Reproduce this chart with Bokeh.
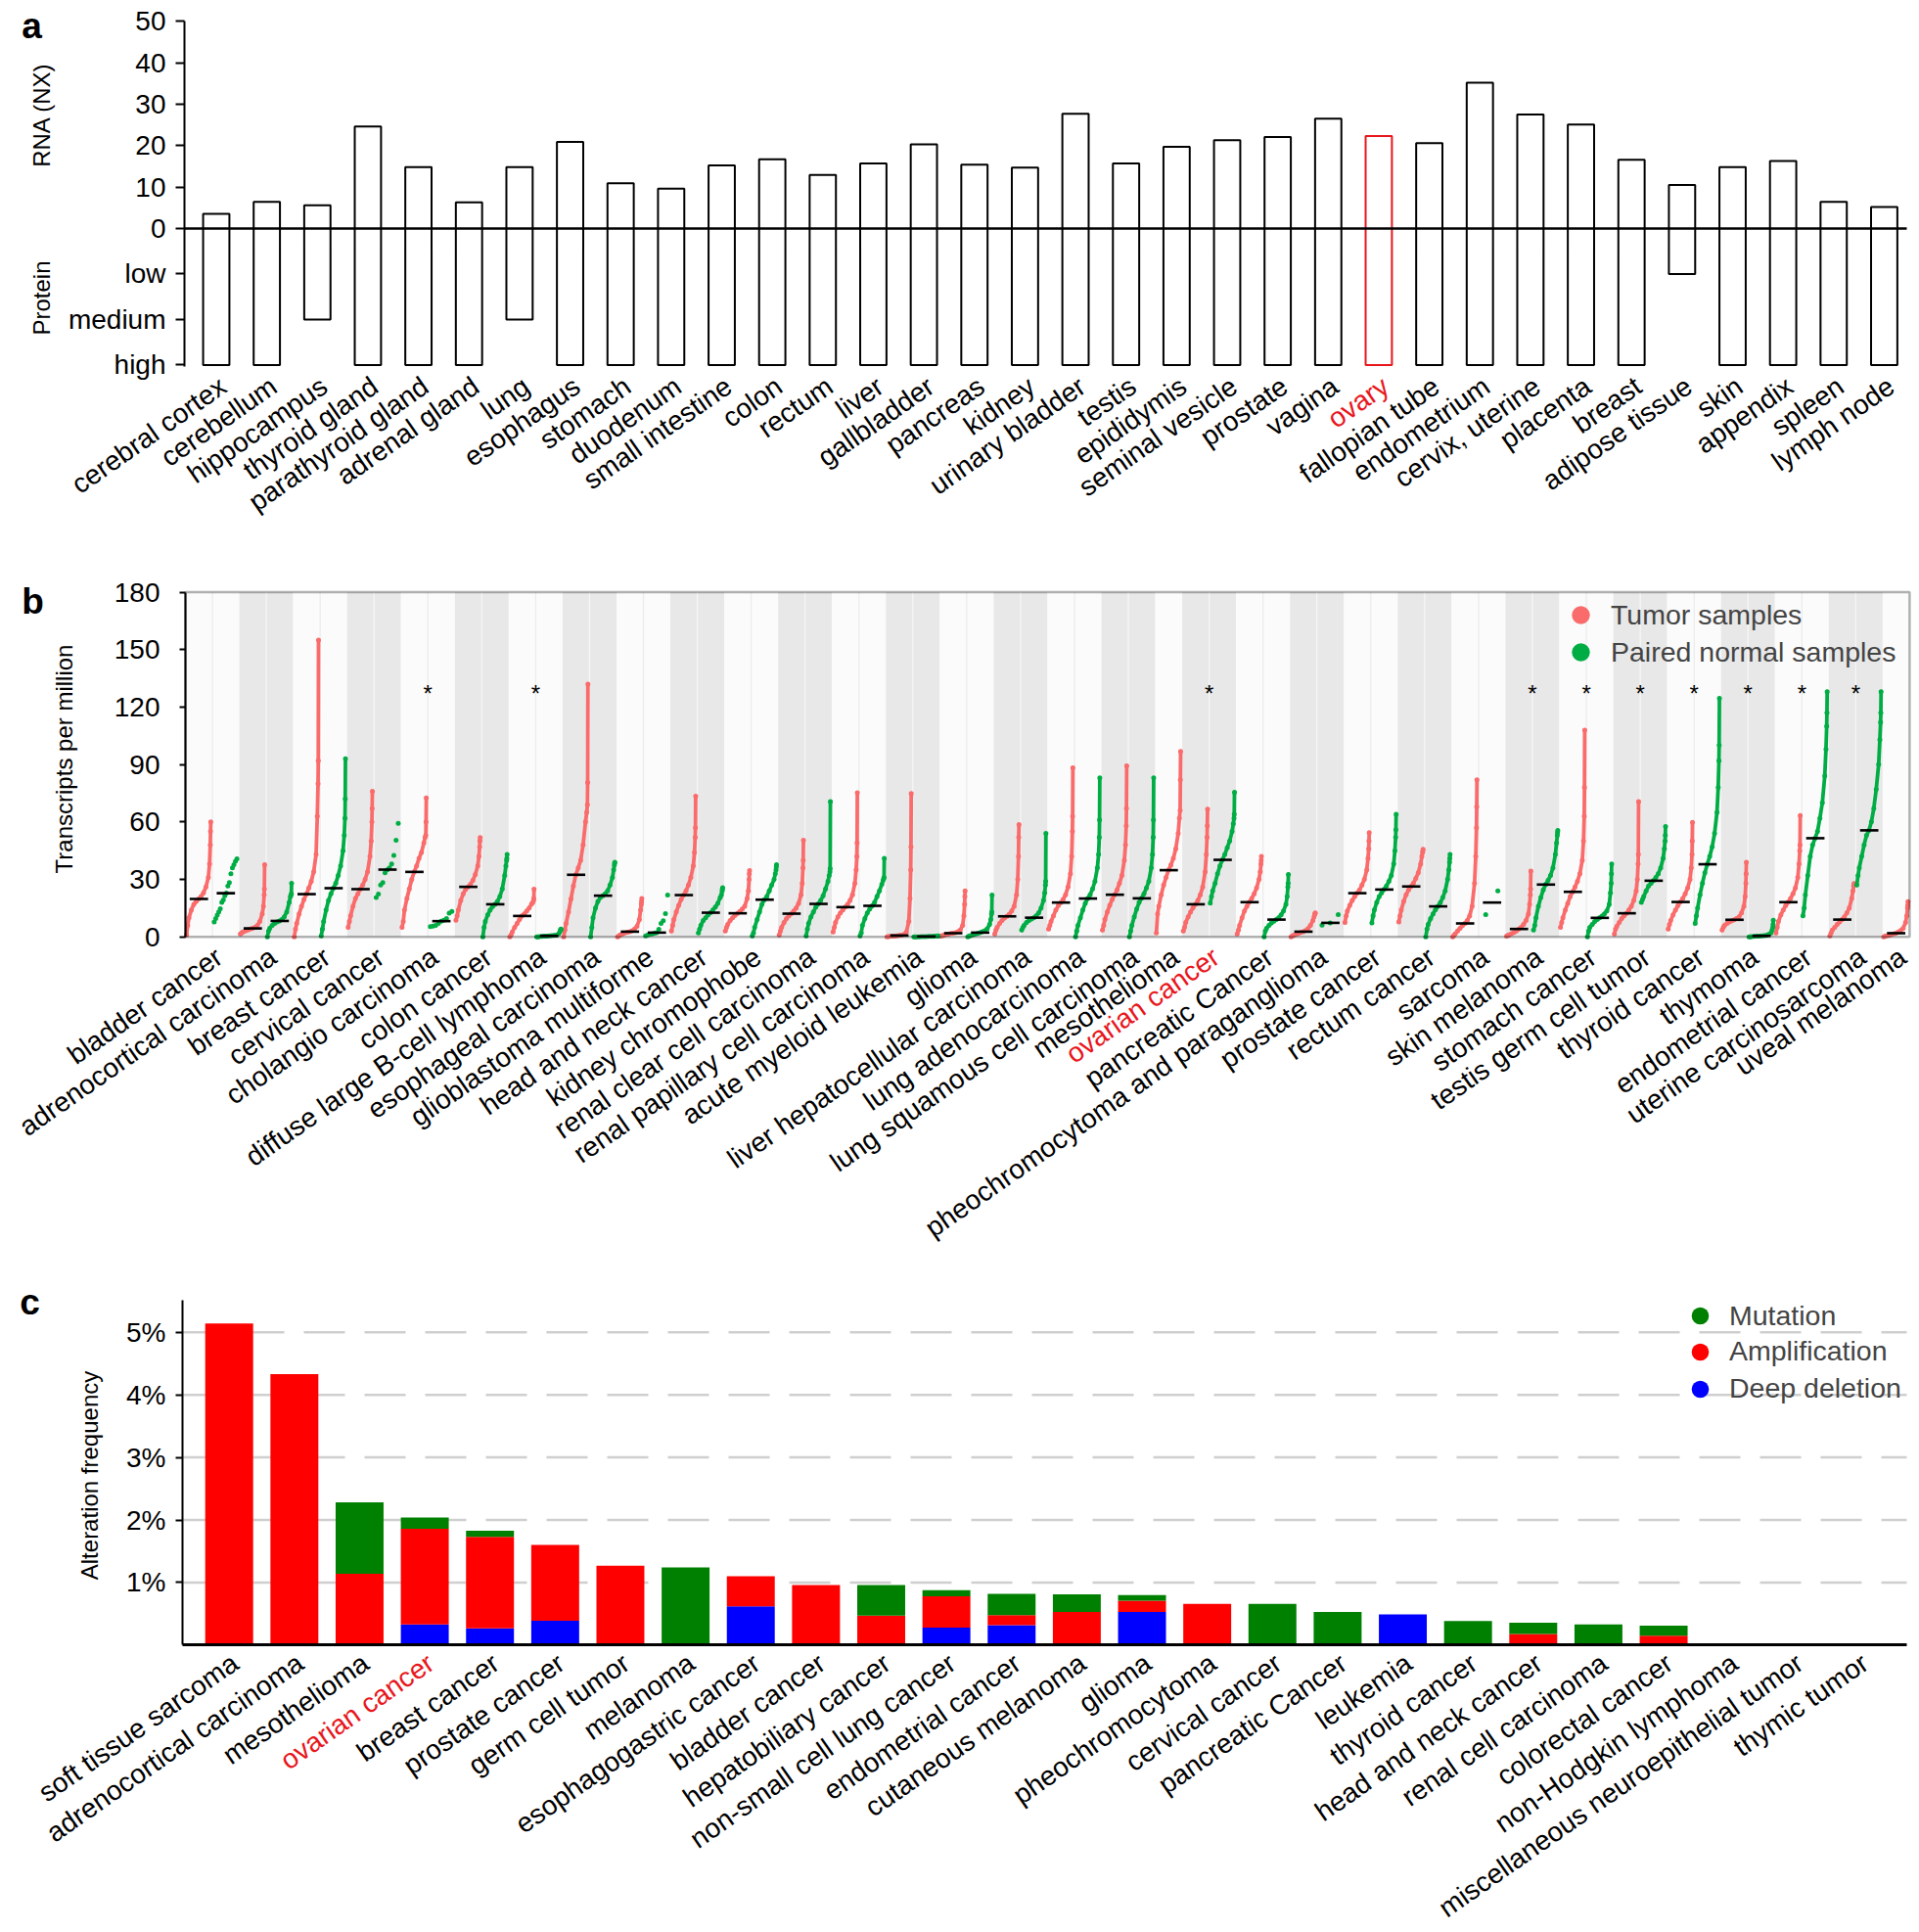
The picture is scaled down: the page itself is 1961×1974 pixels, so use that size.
import numpy as np
from bokeh.plotting import figure
from bokeh.models import (Range1d, ColumnDataSource, LabelSet, Label, FixedTicker, Legend,
                          LegendItem, PrintfTickFormatter, BoxAnnotation)
from bokeh.layouts import column
from bokeh.embed import file_html
from bokeh.resources import INLINE
from bokeh.core.properties import value

FONT = "Liberation Sans"

# ---------------- panel a data ----------------
tissues = ["cerebral cortex", "cerebellum", "hippocampus", "thyroid gland", "parathyroid gland",
           "adrenal gland", "lung", "esophagus", "stomach", "duodenum", "small intestine", "colon",
           "rectum", "liver", "gallbladder", "pancreas", "kidney", "urinary bladder", "testis",
           "epididymis", "seminal vesicle", "prostate", "vagina", "ovary", "fallopian tube",
           "endometrium", "cervix, uterine", "placenta", "breast", "adipose tissue", "skin",
           "appendix", "spleen", "lymph node"]
rna_nx = [3.5, 6.4, 5.6, 24.6, 14.8, 6.3, 14.8, 20.9, 10.9, 9.6, 15.2, 16.7, 12.9, 15.7, 20.3,
          15.4, 14.7, 27.7, 15.7, 19.7, 21.3, 22.1, 26.5, 22.3, 20.6, 35.2, 27.5, 25.1, 16.6,
          10.5, 14.8, 16.3, 6.4, 5.2]
protein = ["high", "high", "medium", "high", "high", "high", "medium", "high", "high", "high",
           "high", "high", "high", "high", "high", "high", "high", "high", "high", "high", "high",
           "high", "high", "high", "high", "high", "high", "high", "high", "low", "high", "high",
           "high", "high"]
protein_levels = ["low", "medium", "high"]
rna_ticks = [0, 10, 20, 30, 40, 50]
highlight_tissue = "ovary"

# ---------------- panel b data ----------------
tcga_cancers = ["bladder cancer", "adrenocortical carcinoma", "breast cancer", "cervical cancer",
                "cholangio carcinoma", "colon cancer", "diffuse large B-cell lymphoma",
                "esophageal carcinoma", "glioblastoma multiforme", "head and neck cancer",
                "kidney chromophobe", "renal clear cell carcinoma", "renal papillary cell carcinoma",
                "acute myeloid leukemia", "glioma", "liver hepatocellular carcinoma",
                "lung adenocarcinoma", "lung squamous cell carcinoma", "mesothelioma",
                "ovarian cancer", "pancreatic Cancer", "pheochromocytoma and paraganglioma",
                "prostate cancer", "rectum cancer", "sarcoma", "skin melanoma", "stomach cancer",
                "testis germ cell tumor", "thyroid cancer", "thymoma", "endometrial cancer",
                "uterine carcinosarcoma", "uveal melanoma"]
# quantile levels at which the sorted sample curves were read
quantile_levels = [0, 0.05, 0.1, 0.2, 0.3, 0.4, 0.5, 0.6, 0.7, 0.8, 0.9, 0.95, 0.98, 0.99, 1.0]
tumor_tpm = [
    [1, 6, 10, 14, 17, 18.5, 19.8, 21, 23, 26, 31, 38, 48, 55, 60],
    [1.5, 2, 2.5, 3, 3.5, 4, 4.4, 5, 6, 8, 12, 16, 22, 25, 37.7],
    [0, 4, 7, 12, 16, 19.5, 22.3, 25.5, 29, 34, 43, 63, 80, 92, 155],
    [5, 8, 11, 16, 20, 22.5, 24.9, 27, 30, 34, 42, 50, 60, 67, 76],
    [5, 8, 14, 20, 25, 30, 33.9, 37, 41, 44, 49, 52, 53, 60, 72.6],
    [8.7, 11, 14, 19, 22.5, 24.8, 26.1, 27.5, 29.5, 32.5, 37, 42, 47, 50, 51.8],
    [0, 1, 2.5, 5, 7, 9, 10.9, 12, 13.5, 15, 17.2, 18, 19, 20, 24.9],
    [0, 3.6, 7, 13, 19.8, 26.6, 32.4, 36, 40, 48, 60, 65, 69, 80.6, 132],
    [0, 0.5, 1, 1.5, 2, 2.4, 2.7, 3.2, 4, 5.5, 9, 14, 17, 18.5, 20],
    [3, 6, 9, 13, 16.5, 19.5, 21.8, 24, 27, 31, 37, 44, 52, 57, 73.5],
    [3, 5, 6.5, 8.5, 10, 11.2, 12.3, 13.2, 14.5, 16, 20, 24, 30, 33, 34.6],
    [1, 3, 5, 7.5, 9.5, 11, 12.1, 13.5, 15, 17.5, 22, 28, 36, 40, 50.5],
    [2.5, 5, 7.5, 10.5, 12.5, 14, 15.5, 17, 19, 22, 28, 35, 42, 49, 75.2],
    [0, 0.1, 0.2, 0.3, 0.4, 0.5, 0.7, 0.9, 1.3, 2.5, 8, 20, 35, 47, 74.8],
    [0.3, 0.6, 0.8, 1.1, 1.4, 1.7, 1.9, 2.2, 2.7, 3.5, 6, 11, 17, 21, 24],
    [1.5, 3.5, 5, 7, 8.5, 9.8, 10.7, 11.8, 13.5, 16, 22, 30, 42, 52, 58.6],
    [4, 6, 8, 11, 14, 16.3, 17.9, 19.5, 22, 26, 33, 42, 55, 63, 88.3],
    [3.5, 6, 9, 13, 16.5, 19.5, 22, 24.5, 28, 32, 40, 48, 58, 67, 89.3],
    [2, 12, 16, 22, 27, 31, 34.8, 37.5, 41, 46, 54, 62, 66, 82, 96.8],
    [3, 5, 7.5, 10.5, 13, 15.2, 17, 19, 22, 26, 34, 43, 52, 58, 66.7],
    [1.5, 3.5, 6, 10, 13.5, 16, 18.1, 20, 22.5, 25.5, 30, 34, 38, 40, 42],
    [0, 0.5, 0.8, 1.3, 1.8, 2.3, 2.7, 3.3, 4.3, 6, 8.5, 10.5, 11.8, 12.2, 12.5],
    [7.5, 11, 13.5, 16.5, 19, 21, 22.8, 24.5, 27, 30, 35, 41, 46, 50, 54.4],
    [7.8, 11, 14, 18.5, 22, 24.5, 26.3, 28, 30.5, 33.5, 38, 42, 44, 45, 45.7],
    [0, 0.8, 1.5, 3, 4.5, 5.8, 7, 8.5, 11, 16, 28, 42, 57, 68, 82],
    [0.3, 0.7, 1, 1.6, 2.3, 3.1, 4.1, 5, 6.5, 8.5, 12, 17, 22, 25, 34.3],
    [5, 7.5, 10, 14, 17.5, 21, 23.5, 26, 29, 33, 40, 50, 63, 78, 108],
    [1.5, 4, 5.5, 7.5, 9.5, 11, 12.3, 14, 16, 19, 24, 30, 38, 43, 70.6],
    [4, 6.5, 8.5, 11.5, 14, 16.3, 18.2, 20, 22.5, 25.5, 30, 36, 43, 50, 59.8],
    [3.5, 5, 6, 7, 7.8, 8.4, 8.9, 9.6, 10.5, 12.5, 16, 21, 28, 33, 39],
    [2, 5, 8, 11.5, 14, 16.3, 18.1, 20, 22.5, 25.5, 31, 38, 45, 48, 63.3],
    [0.5, 2, 3.5, 5, 6.5, 7.8, 9, 10.5, 12.5, 15, 20, 24, 26.5, 27.3, 27.8],
    [0, 0.3, 0.5, 0.8, 1.1, 1.5, 1.9, 2.5, 3.3, 4.5, 7.5, 11, 15, 16.5, 18.4],
]
# normal groups: 15 values = quantile curve; any other length = individual samples
normal_tpm = [
    [7.8, 9.5, 11.3, 13.0, 14.7, 18.0, 19.3, 21.5, 22.8, 26.6, 28.3, 33.0, 36.0, 37.7, 39.4, 40.7],
    [0, 3, 4.5, 6, 7, 7.8, 8.3, 9, 10.5, 13, 18, 21, 22, 22.5, 28],
    [0.5, 4, 8, 14, 19, 22.5, 25.4, 28, 32, 37, 45, 53, 62, 72, 93],
    [20.6, 22.3, 27.1, 28.3, 33.5, 35.0, 36.0, 38.0, 42.5, 50.5, 59.3],
    [5.3, 5.6, 6.0, 7.0, 8.2, 8.7, 9.5, 12.4, 13.3],
    [0, 5, 8, 11.5, 14, 15.8, 17, 18.5, 21, 25, 32, 37, 40, 41, 43],
    [0, 0, 0.1, 0.2, 0.3, 0.4, 0.5, 0.6, 0.7, 0.9, 1.5, 2.5, 3.5, 3.8, 4],
    [0, 5, 10, 15, 18.5, 20.5, 21.5, 22.5, 24, 27, 31, 35, 37.5, 38.5, 39],
    [0.5, 1.0, 1.4, 1.5, 1.9, 2.2, 3.9, 7.0, 8.4, 12.1, 21.8],
    [2, 4, 6, 8.5, 10, 11.5, 12.6, 14, 15.5, 17.5, 20.5, 22, 24, 25, 25.7],
    [0.5, 2, 5, 9, 13, 17, 19.4, 21, 24, 27, 30, 33, 35, 36.5, 37.7],
    [0.5, 4, 7, 10.5, 13, 15.5, 17.2, 19, 21.5, 25, 29, 32, 34, 35.6, 70.6],
    [0.5, 2, 6, 9.5, 12.5, 14.5, 16.2, 18, 21, 24, 27.5, 29.5, 30.5, 31, 41],
    [0, 0, 0, 0, 0.05, 0.1, 0.15, 0.2, 0.2, 0.25, 0.3, 0.35, 0.4, 0.45, 0.5],
    [0, 0.3, 0.6, 1, 1.4, 1.8, 2.2, 2.6, 3.2, 4.2, 6.5, 9, 12, 13, 21.8],
    [3.5, 5, 6, 7.5, 8.5, 9.3, 10, 11, 12.5, 15, 19, 23, 27, 29, 54],
    [0, 3, 6, 10, 14, 17.5, 20, 22, 25, 29, 36, 43, 52, 61, 83],
    [0, 3, 6, 10.5, 14.5, 18, 20.1, 22.5, 25.5, 29, 36, 43, 52, 61, 83],
    [],
    [17.6, 21, 24, 28, 33, 37, 40.2, 43, 46.5, 50, 55, 59, 62, 64, 75.5],
    [0, 3, 4.5, 6, 7.2, 8.2, 9, 10, 11.5, 13.5, 17, 21, 26, 28, 32.6],
    [6.1, 7.3, 11.6],
    [7.3, 11, 14, 18, 21, 23, 24.7, 26.5, 29, 32, 38, 45, 52, 56, 64],
    [0, 4, 6.5, 9.5, 12, 14.2, 15.9, 17.8, 20.5, 24, 30, 35, 39, 41, 43],
    [11.6, 24.0],
    [3.5, 6, 10, 16, 20.5, 24.5, 27.3, 29.5, 32, 36, 43, 49, 53, 54.5, 55.6],
    [0, 3, 5, 6.5, 8, 9, 9.9, 10.8, 12, 13.5, 17, 23, 28, 33, 38],
    [18, 19.5, 21, 24, 26.5, 28, 29.3, 31, 33, 36, 41, 46, 50, 53, 57.6],
    [7, 11, 15, 22, 28, 33.5, 37.9, 42, 47, 54, 65, 78, 92, 100, 124.6],
    [0, 0, 0.1, 0.2, 0.3, 0.4, 0.5, 0.6, 0.8, 1.2, 2, 3.5, 5, 6.5, 8.7],
    [11, 15, 22, 32, 42, 48, 51.5, 55, 62, 70, 84, 98, 110, 117, 128],
    [27, 32, 36, 42, 48, 53, 55.6, 60, 67, 77, 90, 103, 112, 117, 128],
    [],
]
tumor_median = [19.8, 4.4, 22.3, 24.9, 33.9, 26.1, 10.9, 32.4, 2.7, 21.8, 12.3, 12.1, 15.5, 0.7,
                1.9, 10.7, 17.9, 22.0, 34.8, 17.0, 18.1, 2.7, 22.8, 26.3, 7.0, 4.1, 23.5, 12.3,
                18.2, 8.9, 18.1, 9.0, 1.9]
normal_median = [22.8, 8.3, 25.4, 35.1, 8.2, 17.0, 0.5, 21.5, 2.2, 12.6, 19.4, 17.2, 16.2, 0.2,
                 2.2, 10.0, 20.0, 20.1, None, 40.2, 9.0, 7.3, 24.7, 15.9, 17.9, 27.3, 9.9, 29.3,
                 37.9, 0.5, 51.5, 55.6, None]
significant = ["cholangio carcinoma", "diffuse large B-cell lymphoma", "ovarian cancer",
               "skin melanoma", "stomach cancer", "testis germ cell tumor", "thyroid cancer",
               "thymoma", "endometrial cancer", "uterine carcinosarcoma"]
tpm_ticks = [0, 30, 60, 90, 120, 150, 180]
highlight_cancer = "ovarian cancer"

# ---------------- panel c data ----------------
cbio_cancers = ["soft tissue sarcoma", "adrenocortical carcinoma", "mesothelioma", "ovarian cancer",
                "breast cancer", "prostate cancer", "germ cell tumor", "melanoma",
                "esophagogastric cancer", "bladder cancer", "hepatobiliary cancer",
                "non-small cell lung cancer", "endometrial cancer", "cutaneous melanoma", "glioma",
                "pheochromocytoma", "cervical cancer", "pancreatic Cancer", "leukemia",
                "thyroid cancer", "head and neck cancer", "renal cell carcinoma",
                "colorectal cancer", "non-Hodgkin lymphoma",
                "miscellaneous neuroepithelial tumor", "thymic tumor"]
deep_deletion = [0, 0, 0, 0.33, 0.27, 0.39, 0, 0, 0.62, 0, 0, 0.28, 0.32, 0, 0.53, 0, 0, 0,
                 0.49, 0, 0, 0, 0, 0, 0, 0]
amplification = [5.14, 4.33, 1.14, 1.53, 1.46, 1.21, 1.27, 0, 0.48, 0.96, 0.47, 0.50, 0.16, 0.53,
                  0.18, 0.66, 0, 0, 0, 0, 0.18, 0, 0.15, 0, 0, 0]
mutation = [0, 0, 1.14, 0.18, 0.10, 0, 0, 1.24, 0, 0, 0.49, 0.10, 0.34, 0.28, 0.09, 0, 0.66,
            0.53, 0, 0.385, 0.18, 0.33, 0.16, 0, 0, 0]
pct_ticks = [1, 2, 3, 4, 5]

# ---------------- layout helpers (pixel geometry of the page) ----------------
PAGE_W = 1961
HA, HB, HC = 580, 710, 680
TOP_A, TOP_B, TOP_C = 0, HA, HA + HB
RED_HL = "#e8161c"
TUMOR_C = "#fa6b6b"
NORMAL_C = "#00ad45"
LAB_SIZE = "28px"


class Geo:
    """maps page pixels to data units for one panel (whole figure = plot frame)"""
    def __init__(self, x_page, x_val, x_px, y_page, y_val, y_px, top, height):
        self.x_page, self.x_val, self.x_px = x_page, x_val, x_px
        self.y_page, self.y_val, self.y_px = y_page, y_val, y_px
        self.top, self.height = top, height

    def x(self, page):
        return self.x_val + (page - self.x_page) / self.x_px

    def y(self, page):
        return self.y_val + (self.y_page - page) / self.y_px

    def leg_y(self, page_center, glyph):
        # legend location is the bottom edge, measured up from the figure bottom
        return (self.top + self.height) - (page_center + glyph / 2)

    def fig(self):
        p = figure(width=PAGE_W, height=self.height, title=None, output_backend="svg",
                   toolbar_location=None,
                   x_range=Range1d(self.x(0), self.x(PAGE_W)),
                   y_range=Range1d(self.y(self.top + self.height), self.y(self.top)),
                   min_border_left=0, min_border_right=0, min_border_top=0,
                   min_border_bottom=0)
        p.outline_line_color = None
        p.grid.visible = False
        p.background_fill_color = "white"
        return p


def style_axis(ax, tick_out, standoff, size="28px"):
    ax.axis_line_color = "black"
    ax.axis_line_width = 2
    ax.major_tick_line_color = "black"
    ax.major_tick_line_width = 2
    ax.major_tick_out = tick_out
    ax.major_tick_in = 0
    ax.minor_tick_line_color = None
    ax.major_label_text_font = FONT
    ax.major_label_text_font_size = size
    ax.major_label_text_color = "black"
    ax.major_label_standoff = standoff


def line_axis(ax, width):
    ax.ticker = FixedTicker(ticks=[])
    ax.axis_line_color = "black"
    ax.axis_line_width = width
    ax.major_tick_line_color = None
    ax.minor_tick_line_color = None
    ax.major_label_text_color = None


def text(p, x, y, s, size="24px", angle=0, bold=False, align="center", color="black"):
    p.add_layout(Label(x=x, y=y, text=s, text_font=FONT, text_font_size=size, angle=angle,
                       angle_units="deg", text_font_style="bold" if bold else "normal",
                       text_align=align, text_baseline="middle", text_color=color))


def one_legend(p, label, renderer, vx, vy, glyph, size="28.5px"):
    p.add_layout(Legend(items=[LegendItem(label=value(label), renderers=[renderer])],
                        location=(vx, vy), margin=0, padding=0, spacing=0,
                        glyph_height=glyph, glyph_width=glyph, label_standoff=8,
                        label_text_font=FONT, label_text_font_size=size,
                        border_line_color=None, background_fill_alpha=0))


# ================= panel a =================
LEVEL = 11
ga = Geo(220.5, 0, 51.65, 232.9, 0, 4.23, TOP_A, HA)
n_t = len(tissues)
tx = list(range(n_t))
bottoms = [-(protein_levels.index(pl) + 1) * LEVEL for pl in protein]
colors_a = [RED_HL if t == highlight_tissue else "black" for t in tissues]

pa = ga.fig()
src_a = ColumnDataSource(dict(x=tx, top=rna_nx, bottom=bottoms, color=colors_a, text=tissues))
pa.vbar(x="x", top="top", bottom="bottom", width=0.52, fill_color=None, line_color="color",
        line_width=2, source=src_a)
ya = pa.yaxis[0]
ya.fixed_location = ga.x(188)
ya.bounds = (-len(protein_levels) * LEVEL - 0.4, max(rna_ticks))
ya.ticker = FixedTicker(ticks=[-(i + 1) * LEVEL for i in range(len(protein_levels))] + rna_ticks)
ya.major_label_overrides = {-(i + 1) * LEVEL: lv for i, lv in enumerate(protein_levels)}
style_axis(ya, 9, 10)
xa = pa.xaxis[0]
xa.fixed_location = 0
xa.bounds = (ga.x(188), ga.x(1948))
line_axis(xa, 2.5)
pa.add_layout(LabelSet(x="x", y=ga.y(391), x_offset=7, text="text", text_color="color",
                       source=src_a, angle=35, angle_units="deg", text_align="right",
                       text_baseline="middle", text_font=value(FONT), text_font_size=LAB_SIZE))
text(pa, ga.x(42), ga.y(117), "RNA (NX)", size="24px", angle=90)
text(pa, ga.x(42), ga.y(304), "Protein", size="24px", angle=90)
text(pa, ga.x(32), ga.y(26), "a", size="37px", bold=True)

# ================= panel b =================
starts, ncols = [], []
pos = 0
for i in range(len(tcga_cancers)):
    k = 2 if len(normal_tpm[i]) > 0 else 1
    starts.append(pos)
    ncols.append(k)
    pos += k
n_sub = pos
B_TOP = max(tpm_ticks)
gb = Geo(189, 0, 27.53, 956.7, 0, 352.2 / 180, TOP_B, HB)

pb = gb.fig()
pb.xaxis.visible = False
yb = pb.yaxis[0]
yb.fixed_location = 0
yb.bounds = (0, B_TOP)
yb.ticker = FixedTicker(ticks=tpm_ticks)
style_axis(yb, 6, 20)

band_right = [s + k for s, k in zip(starts, ncols)]
band_col = ["#fbfbfb" if i % 2 == 0 else "#e8e8e8" for i in range(len(starts))]
pb.quad(left=starts, right=band_right, bottom=0, top=B_TOP, fill_color=band_col,
        line_color=None)
sep_x = [s + 1 for s, k in zip(starts, ncols) if k == 2]
sep_c = ["#ebebeb" if i % 2 == 0 else "#f7f7f7" for i, k in enumerate(ncols) if k == 2]
pb.segment(x0=sep_x, y0=0, x1=sep_x, y1=B_TOP, line_color=sep_c, line_width=1.2)


def group_points(s, vals):
    n = len(vals)
    if n == len(quantile_levels):
        q = quantile_levels
    else:
        q = [(j + 0.5) / n for j in range(n)]
    return [s + 0.04 + qq * 0.9 for qq in q], list(vals)


def draw_groups(series, offset, color):
    px, py, lxs, lys = [], [], [], []
    for i, vals in enumerate(series):
        if len(vals) == 0:
            continue
        xs, ys = group_points(starts[i] + offset, vals)
        px += xs
        py += ys
        if len(vals) == len(quantile_levels):
            lxs.append(xs)
            lys.append(ys)
    pb.multi_line(xs=lxs, ys=lys, line_color=color, line_width=3.8, line_cap="round",
                  line_join="round")
    return pb.scatter(x=px, y=py, size=5, fill_color=color, line_color=None)


r_tumor = draw_groups(tumor_tpm, 0, TUMOR_C)
r_normal = draw_groups(normal_tpm, 1, NORMAL_C)

mx0, mx1, my = [], [], []
for i in range(len(tcga_cancers)):
    c = starts[i] + 0.5
    mx0.append(c - 0.34); mx1.append(c + 0.34); my.append(tumor_median[i])
    if normal_median[i] is not None:
        c = starts[i] + 1.5
        mx0.append(c - 0.34); mx1.append(c + 0.34); my.append(normal_median[i])
pb.segment(x0=mx0, x1=mx1, y0=my, y1=my, line_color="black", line_width=2.6)

sig_x = [starts[tcga_cancers.index(c)] + ncols[tcga_cancers.index(c)] / 2 for c in significant]
pb.text(x=sig_x, y=[gb.y(708)] * len(sig_x), text=["*"] * len(sig_x), text_align="center",
        text_baseline="middle", text_font=value(FONT), text_font_size="24px",
        text_color="black")
pb.add_layout(BoxAnnotation(left=0, right=n_sub, bottom=0, top=B_TOP, fill_alpha=0,
                            line_color="black", line_width=2.5))

lab_b = ColumnDataSource(dict(
    x=[s + k / 2 for s, k in zip(starts, ncols)], text=tcga_cancers,
    color=[RED_HL if c == highlight_cancer else "black" for c in tcga_cancers]))
pb.add_layout(LabelSet(x="x", y=gb.y(974), x_offset=7, text="text", text_color="color",
                       source=lab_b, angle=35, angle_units="deg", text_align="right",
                       text_baseline="middle", text_font=value(FONT), text_font_size=LAB_SIZE))

one_legend(pb, "Tumor samples", r_tumor, 1592, gb.leg_y(628, 46), 46)
one_legend(pb, "Paired normal samples", r_normal, 1592, gb.leg_y(666, 46), 46)
text(pb, gb.x(65), gb.y(775), "Transcripts per million", size="24px", angle=90)
text(pb, gb.x(33), gb.y(614), "b", size="37px", bold=True)

# ================= panel c =================
gc = Geo(233.7, 0, 66.63, 1680.4, 0, 63.94, TOP_C, HC)
n_c = len(cbio_cancers)
xc = list(range(n_c))
C_X0 = gc.x(186)
C_X1 = gc.x(1948)
pc = gc.fig()
yc = pc.yaxis[0]
yc.fixed_location = C_X0
yc.bounds = (0, gc.y(1328))
yc.ticker = FixedTicker(ticks=pct_ticks)
yc.formatter = PrintfTickFormatter(format="%d%%")
style_axis(yc, 7, 10)
xcx = pc.xaxis[0]
xcx.fixed_location = 0
xcx.bounds = (C_X0, C_X1)
line_axis(xcx, 3)
pc.segment(x0=[C_X0] * len(pct_ticks), x1=[C_X1] * len(pct_ticks), y0=pct_ticks, y1=pct_ticks,
           line_color="#cfcfcf", line_width=2.5, line_dash="42 20")

src_c = ColumnDataSource(dict(x=xc, deep_deletion=deep_deletion, amplification=amplification,
                              mutation=mutation))
pc.vbar_stack(["deep_deletion", "amplification", "mutation"], x="x", width=0.735,
              fill_color=["#0000ff", "#ff0000", "#008000"], line_color=None, source=src_c)

lab_c = ColumnDataSource(dict(
    x=xc, text=cbio_cancers,
    color=[RED_HL if c == highlight_cancer else "black" for c in cbio_cancers]))
pc.add_layout(LabelSet(x="x", y=gc.y(1695.5), x_offset=6, text="text", text_color="color",
                       source=lab_c, angle=35, angle_units="deg", text_align="right",
                       text_baseline="middle", text_font=value(FONT), text_font_size=LAB_SIZE))

# legend renderers (size 0: invisible in the plot, only their colour is used by the legend)
d_mut = pc.scatter(x="x", y="mutation", source=src_c, size=0, fill_color="#008000",
                   line_color=None)
d_amp = pc.scatter(x="x", y="amplification", source=src_c, size=0, fill_color="#ff0000",
                   line_color=None)
d_del = pc.scatter(x="x", y="deep_deletion", source=src_c, size=0, fill_color="#0000ff",
                   line_color=None)
one_legend(pc, "Mutation", d_mut, 1715, gc.leg_y(1344.3, 44), 44)
one_legend(pc, "Amplification", d_amp, 1715, gc.leg_y(1380.8, 44), 44)
one_legend(pc, "Deep deletion", d_del, 1715, gc.leg_y(1418.6, 44), 44)
text(pc, gc.x(91), gc.y(1507), "Alteration frequency", size="24px", angle=90)
text(pc, gc.x(30), gc.y(1330), "c", size="37px", bold=True)

layout = column(pa, pb, pc, spacing=0)
open("out.html", "w").write(file_html(layout, INLINE))
